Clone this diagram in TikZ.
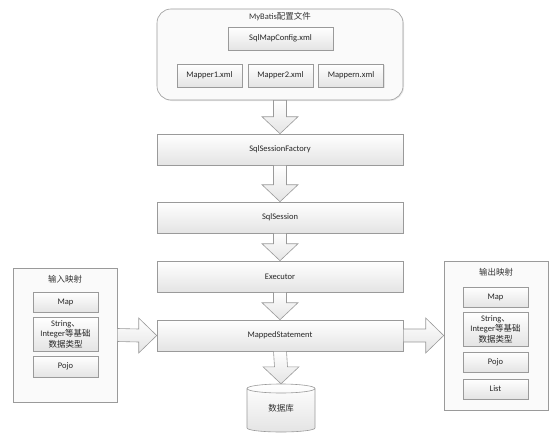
\documentclass[tikz,border=0pt]{standalone}
\usepackage{fontspec}
\setmainfont{Carlito}
\newfontfamily\cjk{Noto Sans CJK SC}
\usetikzlibrary{calc,shadows}
\definecolor{edge}{HTML}{9A9A9A}
\definecolor{shadebot}{HTML}{E4E4E4}
\definecolor{panelfill}{HTML}{FAFAFA}
\tikzset{
  box/.style={draw=edge, line width=0.6pt, top color=white, bottom color=shadebot,
    inner sep=0pt, font=\fontsize{8.5}{10.5}\selectfont, text=black!85,
    drop shadow={shadow xshift=1pt, shadow yshift=-1pt, opacity=0.18}},
  panel/.style={draw=edge, line width=0.6pt, fill=panelfill, inner sep=0pt,
    drop shadow={shadow xshift=1pt, shadow yshift=-1pt, opacity=0.18}},
  blockarrow/.style={draw=edge, line width=0.6pt, top color=white, bottom color=shadebot, line join=miter},
  lbl/.style={font=\fontsize{8.5}{10.5}\selectfont, text=black!80, inner sep=0pt},
}
\newcommand\dnarrowx[2]{%
  \path[blockarrow] ($(#1.south)+(-6.5,0)$) -- ($(#2.north)+(-6.5,-17)$) -- ($(#2.north)+(-18,-17)$)
    -- (#2.north) -- ($(#2.north)+(18,-17)$) -- ($(#2.north)+(6.5,-17)$) -- ($(#1.south)+(6.5,0)$) -- cycle;}
\newcommand\rtarrowx[2]{%
  \path[blockarrow] ($(#1.east)+(0,-6.5)$) -- ($(#2.west)+(-18,-6.5)$) -- ($(#2.west)+(-18,-17.5)$)
    -- (#2.west) -- ($(#2.west)+(-18,17.5)$) -- ($(#2.west)+(-18,6.5)$) -- ($(#1.east)+(0,6.5)$) -- cycle;}
\begin{document}
\begin{tikzpicture}[x=1pt,y=-1pt]
\useasboundingbox (0,0) rectangle (554,439);

% top container
\node[panel, rounded corners=14pt, minimum width=246pt, minimum height=91pt] (cfg) at (280,54.5) {};
\node[lbl] (cfglbl) at (280,17) {MyBatis{\cjk 配置文件}};
\node[box, minimum width=105pt, minimum height=23pt] (smc) at (280.5,38.5) {SqlMapConfig.xml};
\node[box, minimum width=65pt, minimum height=23pt] (m1) at (209.5,75.5) {Mapper1.xml};
\node[box, minimum width=65pt, minimum height=23pt] (m2) at (280.5,75.5) {Mapper2.xml};
\node[box, minimum width=65pt, minimum height=23pt] (mn) at (351,75.5) {Mappern.xml};

% main column
\node[box, minimum width=246pt, minimum height=31pt] (sqf) at (280,149.5) {SqlSessionFactory};
\node[box, minimum width=246pt, minimum height=31pt] (ss) at (280,217.5) {SqlSession};
\node[box, minimum width=246pt, minimum height=31pt] (ex) at (280,276.5) {Executor};
\node[box, minimum width=246pt, minimum height=31pt] (ms) at (280,335.5) {MappedStatement};

% database cylinder
\path[draw=edge, line width=0.6pt, top color=white, bottom color=shadebot]
  (247,388.5) arc[start angle=180, end angle=360, x radius=34, y radius=4.5]
  -- (315,428) arc[start angle=0, end angle=180, x radius=34, y radius=4] -- cycle;
\draw[edge, line width=0.6pt] (247,388.5) arc[start angle=180, end angle=0, x radius=34, y radius=4.5];
\node[lbl, minimum width=68pt, minimum height=48pt] (db) at (281,408) {\cjk 数据库};

% input mapping panel
\node[panel, minimum width=104pt, minimum height=134pt] (inp) at (65,335) {};
\node[lbl] (inplbl) at (65,279) {\cjk 输入映射};
\node[box, minimum width=65pt, minimum height=20pt] (imap) at (65.5,302) {Map};
\node[box, minimum width=65pt, minimum height=34pt, align=center] (istr) at (65.5,334)
  {String{\cjk 、}\\Integer{\cjk 等基础}\\{\cjk 数据类型}};
\node[box, minimum width=65pt, minimum height=21pt] (ipojo) at (65.5,366.5) {Pojo};

% output mapping panel
\node[panel, minimum width=104pt, minimum height=149pt] (outp) at (496,335.5) {};
\node[lbl] (outlbl) at (496,272) {\cjk 输出映射};
\node[box, minimum width=65pt, minimum height=20pt] (omap) at (495.5,297) {Map};
\node[box, minimum width=65pt, minimum height=34pt, align=center] (ostr) at (495.5,329)
  {String{\cjk 、}\\Integer{\cjk 等基础}\\{\cjk 数据类型}};
\node[box, minimum width=65pt, minimum height=20pt] (opojo) at (495.5,362) {Pojo};
\node[box, minimum width=65pt, minimum height=20pt] (olist) at (495.5,389) {List};

% block arrows
\dnarrowx{cfg}{sqf}
\dnarrowx{sqf}{ss}
\dnarrowx{ss}{ex}
\dnarrowx{ex}{ms}
\dnarrowx{ms}{db}
\rtarrowx{inp}{ms}
\rtarrowx{ms}{outp}
\end{tikzpicture}
\end{document}
